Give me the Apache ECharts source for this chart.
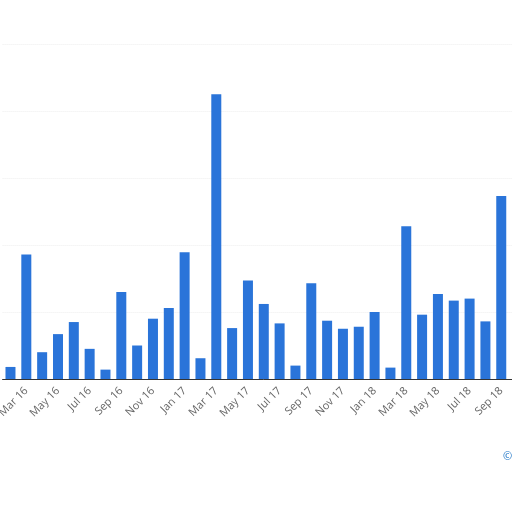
<!DOCTYPE html>
<html><head><meta charset="utf-8">
<script src="https://cdn.jsdelivr.net/npm/echarts@6/dist/echarts.min.js"></script>
<style>html,body{margin:0;padding:0;background:#fff;overflow:hidden;width:512px;height:512px}#c{position:absolute;left:-5px;top:0;width:530px;height:512px}</style>
</head><body><div id="c"></div>
<script>
const categories = ["Feb 16","Mar 16","Apr 16","May 16","Jun 16","Jul 16","Aug 16","Sep 16","Oct 16","Nov 16","Dec 16","Jan 17","Feb 17","Mar 17","Apr 17","May 17","Jun 17","Jul 17","Aug 17","Sep 17","Oct 17","Nov 17","Dec 17","Jan 18","Feb 18","Mar 18","Apr 18","May 18","Jun 18","Jul 18","Aug 18","Sep 18","Oct 18"];
const values = [1.8,18.6,4.0,6.7,8.5,4.5,1.4,13.0,5.0,9.0,10.6,18.9,3.1,42.5,7.6,14.7,11.2,8.3,2.0,14.3,8.7,7.5,7.8,10.0,1.7,22.8,9.6,12.7,11.7,12.0,8.6,27.3,12.4];
const chart = echarts.init(document.getElementById('c'));
chart.setOption({
  animation:false,
  grid:{left:0,right:0,top:44,bottom:133,containLabel:false},
  xAxis:{type:'category',data:categories,
    axisLine:{lineStyle:{color:'#333',width:1}},axisTick:{show:false},
    axisLabel:{rotate:45,color:'#666',fontSize:11,fontFamily:'Open Sans',interval:(i)=>i%2===1,margin:10}},
  yAxis:{type:'value',min:0,max:50,interval:10,axisLabel:{show:false},axisLine:{show:false},
    splitLine:{lineStyle:{color:'#eee',type:'dotted'}}},
  series:[{type:'bar',data:values,barWidth:10,itemStyle:{color:'#2a74d9'}}],
  graphic:[
    {type:'text',left:-126,top:473,style:{text:'Additional Information',fill:'#1a73c6',font:'11px "Open Sans"'}},
    {type:'text',left:508,top:451,style:{text:'© Statista 2019',fill:'#1a73c6',font:'11px "Open Sans"'}}
  ]
});
</script></body></html>
